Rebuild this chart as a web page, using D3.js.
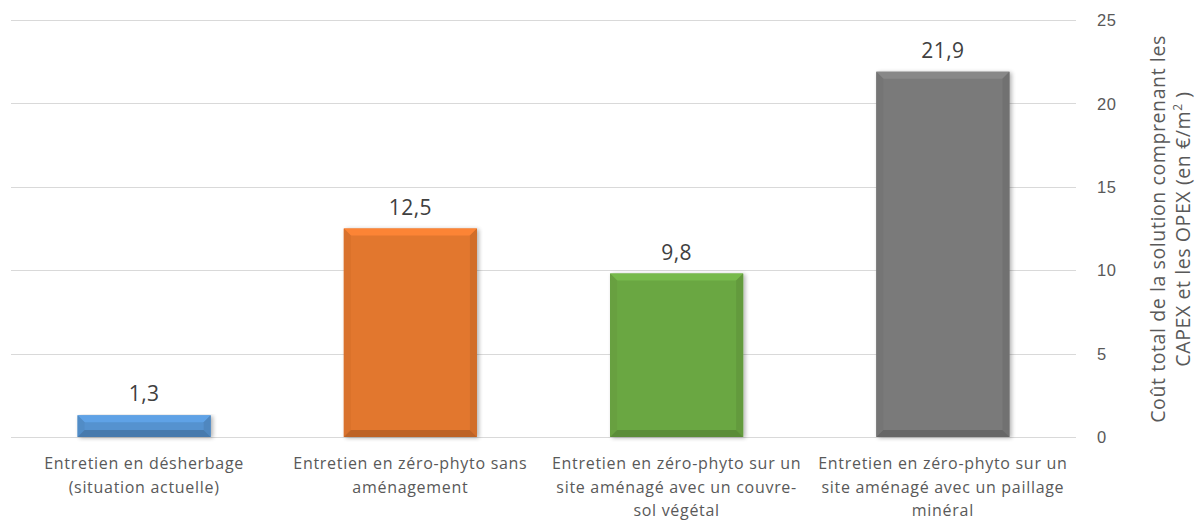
<!DOCTYPE html>
<html>
<head>
<meta charset="utf-8">
<script src="https://cdn.jsdelivr.net/npm/d3@7"></script>
<style>
  html, body { margin: 0; padding: 0; background: #fff; }
  svg { display: block; font-family: "Open Sans", "Noto Sans", "Liberation Sans", sans-serif; }
</style>
</head>
<body>
<svg id="chart" width="1197" height="522"></svg>
<script>
// Categories (each label pre-split into its display lines)
const categories = [
  ["Entretien en désherbage", "(situation actuelle)"],
  ["Entretien en zéro-phyto sans", "aménagement"],
  ["Entretien en zéro-phyto sur un", "site aménagé avec un couvre-", "sol végétal"],
  ["Entretien en zéro-phyto sur un", "site aménagé avec un paillage", "minéral"]
];
const values = [1.3, 12.5, 9.8, 21.9];
const valueLabels = ["1,3", "12,5", "9,8", "21,9"];
const yTicks = [0, 5, 10, 15, 20, 25];
const barColors = ["#5592CF", "#E2772F", "#6BA743", "#7A7A7A"];

const svg = d3.select("#chart");
const plot = { left: 11, right: 1076, top: 20, bottom: 437 };

const x = d3.scaleBand()
  .domain(d3.range(categories.length))
  .range([plot.left, plot.right])
  .paddingInner(0.5)
  .paddingOuter(0.25);

const y = d3.scaleLinear().domain([0, 25]).range([plot.bottom, plot.top]);

// Gridlines
svg.append("g")
  .selectAll("line")
  .data(yTicks)
  .join("line")
  .attr("x1", plot.left).attr("x2", plot.right)
  .attr("y1", d => Math.round(y(d)) + 0.5).attr("y2", d => Math.round(y(d)) + 0.5)
  .attr("stroke", "#D9D9D9").attr("stroke-width", 1.2);

// Right-hand value axis
const axis = d3.axisRight(y).tickValues(yTicks).tickSize(0).tickPadding(0)
  .tickFormat(d3.format("d"));
const ax = svg.append("g").attr("transform", `translate(1097,0)`).call(axis);
ax.select(".domain").remove();
ax.selectAll("text").attr("fill", "#595959").style("font-size", "16.5px")
  .style("letter-spacing", "0.5px").attr("dy", "0.35em");

// Bevel-style bars
const defs = svg.append("defs");
const shadow = defs.append("filter").attr("id", "shadow").attr("x", "-10%").attr("y", "-10%").attr("width", "130%").attr("height", "130%");
shadow.append("feGaussianBlur").attr("in", "SourceAlpha").attr("stdDeviation", 2).attr("result", "b");
shadow.append("feOffset").attr("in", "b").attr("dx", 1.5).attr("dy", 1).attr("result", "o");
shadow.append("feComponentTransfer").attr("in", "o").attr("result", "s")
  .append("feFuncA").attr("type", "linear").attr("slope", 0.3);
const merge = shadow.append("feMerge");
merge.append("feMergeNode").attr("in", "s");
merge.append("feMergeNode").attr("in", "SourceGraphic");

const bev = 7;
const bars = svg.append("g").selectAll("g")
  .data(values)
  .join("g")
  .attr("filter", "url(#shadow)");

bars.each(function(v, i) {
  const g = d3.select(this);
  const x0 = x(i), x1 = x(i) + x.bandwidth();
  const y0 = y(v), y1 = y(0);
  const b = Math.min(bev, (y1 - y0) / 2);
  const base = d3.color(barColors[i]);
  g.append("rect").attr("x", x0).attr("y", y0).attr("width", x1 - x0).attr("height", y1 - y0)
    .attr("fill", base);
  // top facet
  g.append("polygon")
    .attr("points", [[x0, y0], [x1, y0], [x1 - b, y0 + b], [x0 + b, y0 + b]].join(" "))
    .attr("fill", base.brighter(0.3));
  // left facet
  g.append("polygon")
    .attr("points", [[x0, y0], [x0 + b, y0 + b], [x0 + b, y1 - b], [x0, y1]].join(" "))
    .attr("fill", base.darker(0.12));
  // right facet
  g.append("polygon")
    .attr("points", [[x1, y0], [x1 - b, y0 + b], [x1 - b, y1 - b], [x1, y1]].join(" "))
    .attr("fill", base.darker(0.22));
  // bottom facet
  g.append("polygon")
    .attr("points", [[x0, y1], [x0 + b, y1 - b], [x1 - b, y1 - b], [x1, y1]].join(" "))
    .attr("fill", base.darker(0.5));
});

// Value labels
svg.append("g").selectAll("text")
  .data(values)
  .join("text")
  .attr("x", (d, i) => x(i) + x.bandwidth() / 2)
  .attr("y", d => y(d) - 14)
  .attr("text-anchor", "middle")
  .attr("fill", "#404040")
  .style("font-size", "21px")
  .style("letter-spacing", "0.5px")
  .text((d, i) => valueLabels[i]);

// Category labels
const catG = svg.append("g").selectAll("text")
  .data(categories)
  .join("text")
  .attr("text-anchor", "middle")
  .attr("fill", "#595959")
  .style("font-size", "16px")
  .style("letter-spacing", "0.7px")
  .attr("transform", (d, i) => `translate(${x(i) + x.bandwidth() / 2},469)`);
catG.selectAll("tspan")
  .data(d => d)
  .join("tspan")
  .attr("x", 0)
  .attr("y", (d, j) => j * 23.5)
  .text(d => d);

// Axis title (rotated, two lines, with superscript)
const title = svg.append("text")
  .attr("transform", "translate(1165,229) rotate(-90)")
  .attr("text-anchor", "middle")
  .attr("fill", "#595959")
  .style("font-size", "19.5px")
  .style("letter-spacing", "0.6px");
title.append("tspan").attr("x", 0).attr("y", 0).text("Coût total de la solution comprenant les");
title.append("tspan").attr("x", 0).attr("y", 25).text("CAPEX et les OPEX (en €/m");
title.append("tspan").attr("dy", -8).style("font-size", "12px").text("2");
title.append("tspan").attr("dy", 8).text(" )");
</script>
</body>
</html>
